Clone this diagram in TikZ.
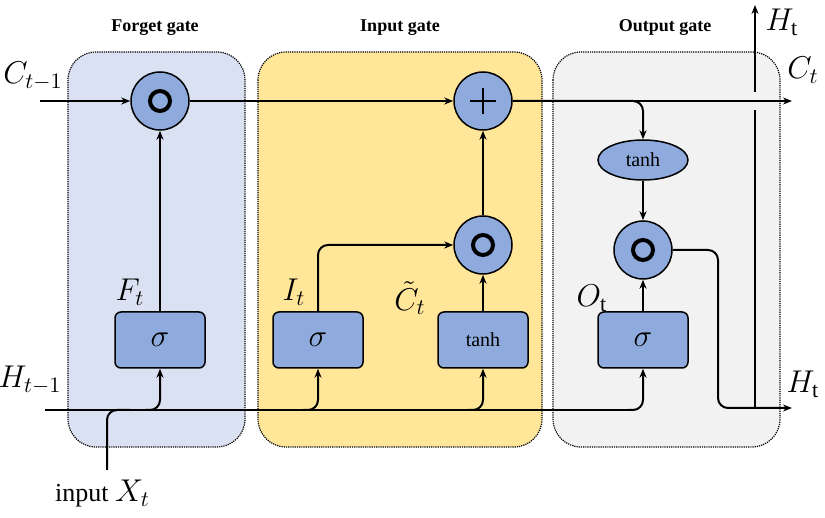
\documentclass[tikz,border=0pt]{standalone}
\usepackage{fix-cm}
\usepackage{fontspec}
\setmainfont{Liberation Serif}
\usetikzlibrary{arrows.meta,shapes.geometric}
\definecolor{unitblue}{HTML}{8FAADC}
\definecolor{forgetbg}{HTML}{DAE1F2}
\definecolor{inputbg}{HTML}{FFE699}
\definecolor{outputbg}{HTML}{F2F2F2}
\newcommand{\bigmath}[1]{\scalebox{2.1}{\fontsize{15}{15}\selectfont$#1$}}
\tikzset{
    gatebox/.style={draw, densely dotted, line width=1.2pt, rounded corners=28pt},
    sigbox/.style={draw, fill=unitblue, line width=1.5pt, rounded corners=6pt,
        minimum width=90pt, minimum height=56pt, font=\fontsize{20}{20}\selectfont},
    tanhbox/.style={sigbox, font=\fontsize{20}{20}\selectfont},
    tanhell/.style={draw, fill=unitblue, line width=1.5pt, ellipse,
        minimum width=90pt, minimum height=40pt, inner sep=0pt, font=\fontsize{20}{20}\selectfont},
    opcirc/.style={draw, fill=unitblue, line width=1.5pt, circle, minimum size=58pt, inner sep=0pt},
    mult/.style={opcirc, path picture={
        \draw[line width=4pt] (path picture bounding box.center) circle (10pt);
        \fill (path picture bounding box.center) circle (4pt);}},
    add/.style={opcirc, path picture={
        \draw[line width=1.5pt] ([xshift=-13pt]path picture bounding box.center) -- ++(26pt,0);
        \draw[line width=1.5pt] ([yshift=-13pt]path picture bounding box.center) -- ++(0,26pt);}},
    flow/.style={line width=2pt, -{Stealth[length=9pt,width=7pt]}, rounded corners=10pt},
    lab/.style={inner sep=0pt},
    title/.style={font=\bfseries\fontsize{18}{18}\selectfont}
}
\begin{document}
\begin{tikzpicture}[x=1pt,y=-1pt]
    \useasboundingbox (0,0) rectangle (825,518);
    % gate areas
    \filldraw[gatebox, fill=forgetbg] (68,52) rectangle (245,447);
    \filldraw[gatebox, fill=inputbg] (258,52) rectangle (542,447);
    \filldraw[gatebox, fill=outputbg] (553,52) rectangle (780,447);
    \node[title] (tforget) at (155,28) {Forget gate};
    \node[title] (tinput) at (400,28) {Input gate};
    \node[title] (toutput) at (665,28) {Output gate};

    % units
    \node[mult] (fmul) at (160,101) {};
    \node[add] (cadd) at (483,101) {};
    \node[mult] (imul) at (483,245) {};
    \node[tanhell] (otanh) at (643,160) {tanh};
    \node[mult] (omul) at (643,250) {};
    \node[sigbox] (fsig) at (160,340) {\bigmath{\sigma}};
    \node[sigbox] (isig) at (318,340) {\bigmath{\sigma}};
    \node[tanhbox] (ctanh) at (483,340) {tanh};
    \node[sigbox] (osig) at (643,340) {\bigmath{\sigma}};

    \coordinate (cin) at (40,101);
    \coordinate (cout) at (792,101);
    \coordinate (hin) at (45,410);
    \coordinate (hout) at (792,408);
    \coordinate (xin) at (107,470);
    \coordinate (htop) at (755,5);

    % cell state
    \draw[flow] (cin) -- (fmul);
    \draw[flow] (fmul) -- (cadd);
    \draw[flow] (cadd) -- (cout);
    \draw[flow] (cadd.east) -| (otanh.north);
    \draw[flow] (otanh) -- (omul);
    \draw[flow] (fsig) -- (fmul);
    \draw[flow] (imul) -- (cadd);
    \draw[flow] (ctanh) -- (imul);
    \draw[flow] (isig.north) |- (imul.west);
    \draw[flow] (osig) -- (omul);

    % hidden state and input
    \draw[line width=2pt] (hin) -- (630,410);
    \draw[line width=2pt, rounded corners=10pt] (xin) |- (130,410);
    \draw[flow] ([xshift=-15pt]fsig.south |- hin) -| (fsig.south);
    \draw[flow] ([xshift=-15pt]isig.south |- hin) -| (isig.south);
    \draw[flow] ([xshift=-15pt]ctanh.south |- hin) -| (ctanh.south);
    \draw[flow] ([xshift=-15pt]osig.south |- hin) -| (osig.south);
    \draw[flow] (omul.east) -| (718,408) -- (hout);
    \draw[line width=2pt] (755,408) -- (755,110);
    \draw[flow] (755,92) -- (htop);

    % labels
    \node[lab] (lcin) at (33,76) {\bigmath{C_{t-1}}};
    \node[lab] (lcout) at (803,70) {\bigmath{C_t}};
    \node[lab] (lhin) at (30,380) {\bigmath{H_{t-1}}};
    \node[lab] (lhout) at (803,384) {\bigmath{H_{\mathrm{t}}}};
    \node[lab] (lhtop) at (782,22) {\bigmath{H_{\mathrm{t}}}};
    \node[lab] (lft) at (130,292) {\bigmath{F_t}};
    \node[lab] (lit) at (294,292) {\bigmath{I_t}};
    \node[lab] (lct) at (410,298) {\bigmath{\tilde{C}_t}};
    \node[lab] (lot) at (592,298) {\bigmath{O_{\mathrm{t}}}};
    \node[lab, anchor=east] (lx) at (150,494) {\fontsize{26}{26}\selectfont input \bigmath{X_t}};
\end{tikzpicture}
\end{document}
